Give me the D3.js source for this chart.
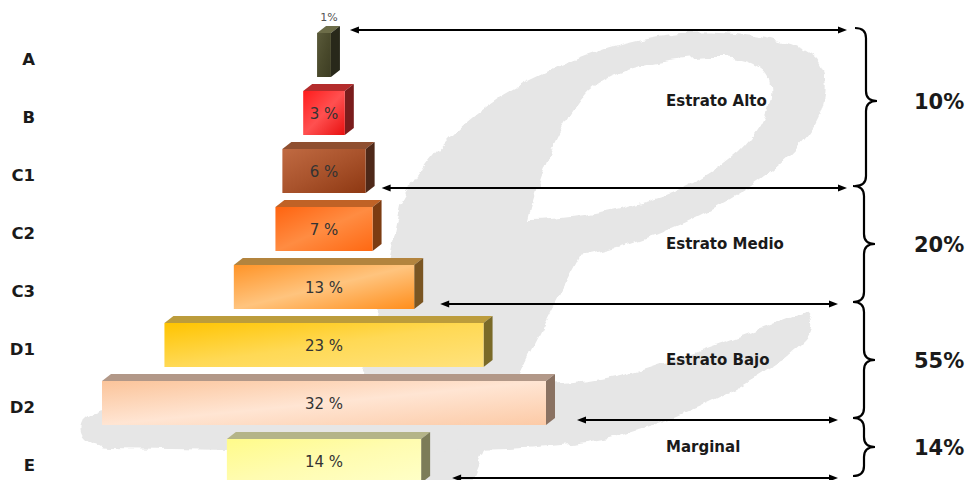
<!DOCTYPE html>
<html>
<head>
<meta charset="utf-8">
<script src="https://cdn.jsdelivr.net/npm/d3@7"></script>
<style>
  html, body { margin: 0; padding: 0; background: #fff; }
  svg { display: block; }
  text { font-family: "Century Gothic", "DejaVu Sans", sans-serif; }
</style>
</head>
<body>
<svg id="chart" width="970" height="480"></svg>
<script>
// Socio-economic levels and their share of the population (%)
const categories = ["A", "B", "C1", "C2", "C3", "D1", "D2", "E"];
const shares = [1, 3, 6, 7, 13, 23, 32, 14];

// Strata grouping the levels above
const strataNames = ["Estrato Alto", "Estrato Medio", "Estrato Bajo", "Marginal"];
const strataMembers = [["A", "B", "C1"], ["C2", "C3"], ["D1", "D2"], ["E"]];
const strataShares = [10, 20, 55, 14];

// Colours for each level: front gradient stops, top face, side face
const frontStops = [
  ["#5a5a3a", "#4a4a2c", "#3c3c22"],
  ["#ff1c1c", "#ff5050", "#e81010"],
  ["#c06a42", "#a9532c", "#8e3812"],
  ["#ff6410", "#ff8c42", "#ff6812"],
  ["#ff9428", "#ffc47e", "#ff8e1c"],
  ["#ffc400", "#ffd955", "#ffe27c"],
  ["#fbc49a", "#ffe5d3", "#fccaa6"],
  ["#fffb8a", "#fffcb0", "#ffffc8"]
];
const topFaces  = ["#6c6c48", "#b42c2c", "#8f4f30", "#c06226", "#b3843e", "#bc9c3c", "#b29888", "#b4b488"];
const sideFaces = ["#28281a", "#7a1c1c", "#4e2818", "#7c3c12", "#7a5522", "#7a6a28", "#8a7262", "#7c7c58"];

const svg = d3.select("#chart");
const defs = svg.append("defs");

// Brush-stroke texture for the background emblem
const rough = defs.append("filter").attr("id", "rough")
  .attr("x", "-10%").attr("y", "-10%").attr("width", "120%").attr("height", "120%");
rough.append("feTurbulence").attr("type", "fractalNoise")
  .attr("baseFrequency", "0.06").attr("numOctaves", 3).attr("seed", 7).attr("result", "noise");
rough.append("feDisplacementMap").attr("in", "SourceGraphic").attr("in2", "noise")
  .attr("scale", 9).attr("xChannelSelector", "R").attr("yChannelSelector", "G");

const emblem = svg.append("g").attr("filter", "url(#rough)").attr("fill", "#e6e6e6");
// loop with its hollow centre and the stroke descending from it
emblem.append("path")
  .attr("fill-rule", "evenodd")
  .attr("d",
    "M330,485 C360,400 380,300 400,205 C430,150 470,110 530,80 C580,55 630,38 680,33 " +
    "C740,30 800,40 818,60 C832,80 826,110 808,135 C785,165 750,190 700,215 " +
    "C660,235 620,248 580,256 C540,330 500,410 470,485 Z " +
    "M528,220 C540,170 560,125 585,95 C605,72 650,60 712,57 C745,56 768,68 770,85 " +
    "C772,105 765,125 740,150 C715,172 685,190 650,200 C610,212 565,220 528,220 Z");
// tail sweeping to the lower left
emblem.append("path")
  .attr("d",
    "M806,312 C780,322 720,345 640,370 C600,382 560,385 500,388 L300,395 " +
    "C200,400 120,404 92,414 C72,424 78,446 110,448 L300,451 " +
    "C430,452 540,452 610,438 C690,418 770,375 805,340 C815,330 814,316 806,312 Z");

// Scales
const y = d3.scaleBand().domain(categories).range([26, 490])
  .paddingInner(14 / 58).paddingOuter(7 / 58);
const w = d3.scaleLinear().domain([0, 32]).range([0, 444]);
const cx = 324;             // pyramid axis
const dx = 9, dy = -7;      // 3-D depth offset

const rows = categories.map((c, i) => ({ cat: c, v: shares[i], i }));

rows.forEach(r => {
  const g = defs.append("linearGradient").attr("id", "front" + r.i)
    .attr("x1", "0%").attr("y1", "0%").attr("x2", "100%").attr("y2", "100%");
  frontStops[r.i].forEach((col, k) => g.append("stop")
    .attr("offset", (k * 50) + "%").attr("stop-color", col));
});

const bars = svg.append("g").selectAll("g.bar").data(rows).join("g").attr("class", "bar");

bars.each(function (d) {
  const g = d3.select(this);
  const x0 = cx - w(d.v) / 2, x1 = cx + w(d.v) / 2;
  const y0 = y(d.cat), y1 = y0 + y.bandwidth();
  // top face
  g.append("path")
    .attr("d", `M${x0},${y0} L${x0 + dx},${y0 + dy} L${x1 + dx},${y0 + dy} L${x1},${y0} Z`)
    .attr("fill", topFaces[d.i]);
  // side face
  g.append("path")
    .attr("d", `M${x1},${y0} L${x1 + dx},${y0 + dy} L${x1 + dx},${y1 + dy} L${x1},${y1} Z`)
    .attr("fill", sideFaces[d.i]);
  // front face
  g.append("rect")
    .attr("x", x0).attr("y", y0).attr("width", w(d.v)).attr("height", y.bandwidth())
    .attr("fill", `url(#front${d.i})`);
});

// Value labels: inside the bar, or above it when the bar is too narrow
bars.append("text")
  .attr("x", d => w(d.v) < 30 ? cx + 5 : cx)
  .attr("y", d => w(d.v) < 30 ? y(d.cat) - 16 : y(d.cat) + y.bandwidth() / 2 + 1)
  .attr("text-anchor", "middle")
  .attr("dominant-baseline", "central")
  .attr("font-size", d => w(d.v) < 30 ? 11 : 15)
  .attr("fill", d => w(d.v) < 30 ? "#555" : "#333")
  .text(d => w(d.v) < 30 ? d.v + "%" : d.v + " %");

// Level labels on the left
svg.append("g").selectAll("text").data(rows).join("text")
  .attr("x", 35)
  .attr("y", d => y(d.cat) + y.bandwidth() / 2 + 4)
  .attr("text-anchor", "end")
  .attr("dominant-baseline", "central")
  .attr("font-size", 16.5).attr("font-weight", "bold").attr("fill", "#1a1a1a")
  .text(d => d.cat);

// Stratum boundaries: double-headed arrows from the pyramid to the braces
const rightEdge = c => cx + w(shares[categories.indexOf(c)]) / 2 + dx;
const bounds = [{ y: y(strataMembers[0][0]) - 3, from: strataMembers[0][0], gap: 10, to: 847 }];
const gaps = [7, 17, 22, 22];
const ends = [847, 838, 838, 838];
strataMembers.forEach((m, i) => {
  const last = m[m.length - 1];
  bounds.push({ y: y(last) + y.bandwidth() - 5, from: last, gap: gaps[i], to: ends[i] });
});

const head = (x, yy, dir) => `M${x},${yy} L${x - dir * 9},${yy - 3.5} L${x - dir * 9},${yy + 3.5} Z`;
const ann = svg.append("g");
bounds.forEach(b => {
  const xl = rightEdge(b.from) + b.gap;
  ann.append("line").attr("x1", xl + 4).attr("x2", b.to - 4)
    .attr("y1", b.y).attr("y2", b.y).attr("stroke", "#000").attr("stroke-width", 2);
  ann.append("path").attr("d", head(xl, b.y, -1)).attr("fill", "#000");
  ann.append("path").attr("d", head(b.to, b.y, 1)).attr("fill", "#000");
});

// Curly braces, stratum names and stratum totals
const brace = (x0, ya, yb, ym) => {
  const bw = 22, h = bw / 2, r = 10;
  return `M${x0},${ya} Q${x0 + h},${ya} ${x0 + h},${ya + r} L${x0 + h},${ym - r} ` +
         `Q${x0 + h},${ym} ${x0 + bw},${ym} Q${x0 + h},${ym} ${x0 + h},${ym + r} ` +
         `L${x0 + h},${yb - r} Q${x0 + h},${yb} ${x0},${yb}`;
};
strataNames.forEach((name, i) => {
  const ya = bounds[i].y - 2, yb = bounds[i + 1].y - 2;
  const ym = i === 0 ? (ya + yb) / 2 - 6 : (ya + yb) / 2;
  const bx = i === 0 ? 855 : 853;
  ann.append("path").attr("d", brace(bx, ya, Math.min(yb, 492), ym))
    .attr("fill", "none").attr("stroke", "#000").attr("stroke-width", 2.2);
  ann.append("text").attr("x", 666).attr("y", ym)
    .attr("dominant-baseline", "central")
    .attr("font-size", 15).attr("font-weight", "bold").attr("fill", "#1a1a1a")
    .text(name);
  ann.append("text").attr("x", 914).attr("y", ym + 1)
    .attr("dominant-baseline", "central")
    .attr("font-size", 21).attr("font-weight", "bold").attr("fill", "#1a1a1a")
    .text(strataShares[i] + "%");
});
</script>
</body>
</html>
